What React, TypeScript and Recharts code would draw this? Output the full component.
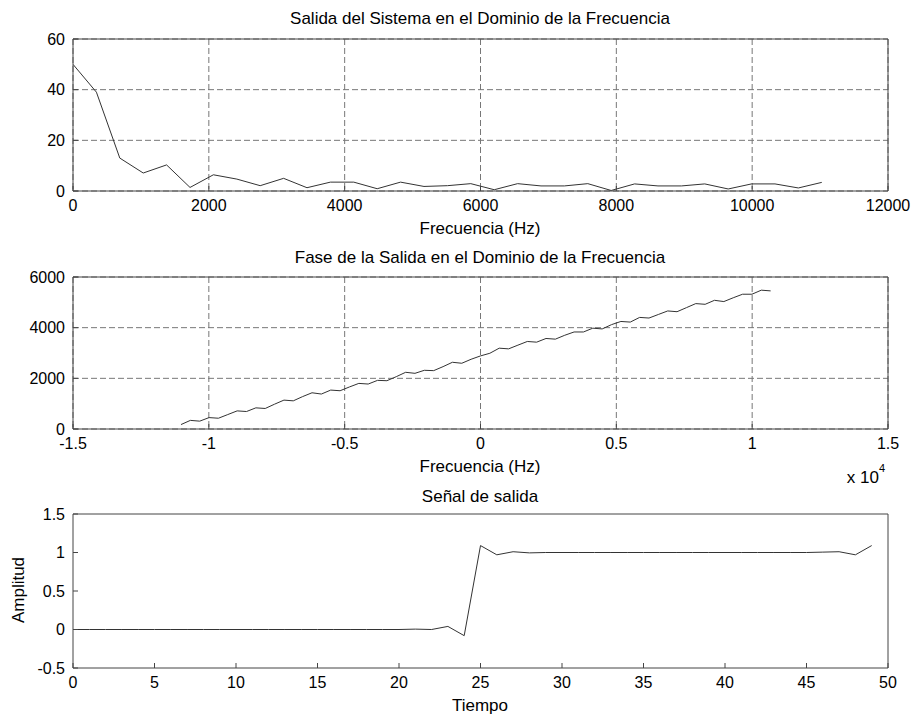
import { LineChart, Line, XAxis, YAxis, CartesianGrid } from 'recharts';

// frecuencias de los bins (Hz), paso 22050/64
const BIN_HZ = [
  0, 345, 689, 1034, 1378, 1723, 2067, 2412, 2756, 3101, 3445, 3790, 4134, 4479, 4823, 5168,
  5513, 5857, 6202, 6546, 6891, 7235, 7580, 7924, 8269, 8613, 8958, 9302, 9647, 9991, 10336,
  10680, 11025,
];

// magnitud de la salida
const MAGNITUD = [
  50, 39, 13, 7.1, 10.3, 1.4, 6.4, 4.7, 2.1, 5.0, 1.3, 3.5, 3.5, 0.9, 3.5, 1.8, 2.1, 2.9, 0.5,
  2.9, 2.0, 2.0, 2.9, 0.2, 2.8, 2.0, 2.0, 2.8, 0.8, 2.8, 2.8, 1.2, 3.4,
];

// fase (desenrollada), de -11025 Hz a 10680 Hz
const FASE = [
  175, 340, 310, 450, 425, 570, 715, 690, 835, 810, 980, 1140, 1112, 1280, 1430, 1380, 1536,
  1510, 1660, 1800, 1775, 1920, 1906, 2065, 2238, 2198, 2317, 2304, 2462, 2634, 2595, 2753,
  2885, 2990, 3190, 3164, 3310, 3455, 3428, 3573, 3547, 3700, 3830, 3830, 3980, 3950, 4120,
  4245, 4220, 4405, 4380, 4520, 4660, 4630, 4790, 4950, 4922, 5080, 5030, 5180, 5320, 5320,
  5480, 5452,
];

// señal de salida, t = 0..49
const SALIDA = [
  0, 0, 0, 0, 0, 0, 0, 0, 0, 0, 0, 0, 0, 0, 0, 0, 0, 0, 0, 0, 0, 0.005, 0, 0.04, -0.08, 1.09,
  0.97, 1.01, 0.995, 1, 1, 1, 1, 1, 1, 1, 1, 1, 1, 1, 1, 1, 1, 1, 1, 1, 1.005, 1.01, 0.97, 1.09,
];

const X_TICKS_MAG = [0, 2000, 4000, 6000, 8000, 10000, 12000];
const Y_TICKS_MAG = [0, 20, 40, 60];
const X_TICKS_FASE = [-15000, -10000, -5000, 0, 5000, 10000, 15000];
const Y_TICKS_FASE = [0, 2000, 4000, 6000];
const X_TICKS_T = [0, 5, 10, 15, 20, 25, 30, 35, 40, 45, 50];
const Y_TICKS_T = [-0.5, 0, 0.5, 1, 1.5];

const magData = BIN_HZ.map((f, i) => ({ x: f, y: MAGNITUD[i] }));
const faseHz = [...BIN_HZ.slice(1).reverse().map((f) => -f), ...BIN_HZ.slice(0, 32)];
const faseData = faseHz.map((f, i) => ({ x: f, y: FASE[i] }));
const salidaData = SALIDA.map((v, i) => ({ x: i, y: v }));

const W = 915;
const H = 717;
const LEFT = 73;
const RIGHT = 888;
const FONT = '"Liberation Sans", Arial, Helvetica, sans-serif';
const FS = 16;
const FS_LABEL = 17;
const BOX = '#444';

interface PanelProps {
  data: { x: number; y: number }[];
  xDomain: [number, number];
  xTicks: number[];
  yDomain: [number, number];
  yTicks: number[];
  top: number;
  bottom: number;
  grid?: boolean;
  xFmt?: (v: number) => string;
}

function Panel({ data, xDomain, xTicks, yDomain, yTicks, top, bottom, grid, xFmt }: PanelProps) {
  const tickStyle = { fill: '#000', fontSize: FS, fontFamily: FONT };
  return (
    <div style={{ position: 'absolute', left: 0, top: 0 }}>
      <LineChart
        width={W}
        height={H}
        data={data}
        margin={{ top: top - 1, right: W - RIGHT - 1, bottom: H - bottom - 30, left: 0 }}
      >
        {grid && <CartesianGrid stroke="#777" strokeDasharray="6 3" />}
        <XAxis
          type="number"
          dataKey="x"
          domain={xDomain}
          ticks={xTicks}
          interval={0}
          height={30}
          tickSize={-5}
          tickMargin={14}
          tick={tickStyle}
          tickFormatter={xFmt}
          stroke={BOX}
          allowDataOverflow
        />
        <XAxis
          xAxisId="t"
          orientation="top"
          type="number"
          dataKey="x"
          domain={xDomain}
          ticks={xTicks}
          interval={0}
          height={1}
          tickSize={-5}
          tick={false}
          stroke={BOX}
        />
        <YAxis
          type="number"
          domain={yDomain}
          ticks={yTicks}
          interval={0}
          width={LEFT}
          tickSize={-5}
          tickMargin={13}
          tick={tickStyle}
          stroke={BOX}
          allowDataOverflow
        />
        <YAxis
          yAxisId="r"
          orientation="right"
          type="number"
          domain={yDomain}
          ticks={yTicks}
          interval={0}
          width={1}
          tickSize={-5}
          tick={false}
          stroke={BOX}
        />
        <Line
          type="linear"
          dataKey="y"
          stroke="#333"
          strokeWidth={1}
          dot={false}
          isAnimationActive={false}
        />
      </LineChart>
    </div>
  );
}

function Txt({ x, y, children, rotate }: { x: number; y: number; children: React.ReactNode; rotate?: boolean }) {
  return (
    <div
      style={{
        position: 'absolute',
        left: x,
        top: y,
        transform: `translate(-50%, -50%)${rotate ? ' rotate(-90deg)' : ''}`,
        fontFamily: FONT,
        fontSize: FS_LABEL,
        lineHeight: 1,
        whiteSpace: 'nowrap',
        color: '#000',
      }}
    >
      {children}
    </div>
  );
}

export default function App() {
  return (
    <div style={{ position: 'fixed', left: 0, top: 0, width: W, height: H, background: '#fff' }}>
      <Panel
        data={magData}
        xDomain={[0, 12000]}
        xTicks={X_TICKS_MAG}
        yDomain={[0, 60]}
        yTicks={Y_TICKS_MAG}
        top={39}
        bottom={191}
        grid
      />
      <Panel
        data={faseData}
        xDomain={[-15000, 15000]}
        xTicks={X_TICKS_FASE}
        yDomain={[0, 6000]}
        yTicks={Y_TICKS_FASE}
        top={277}
        bottom={429}
        grid
        xFmt={(v) => String(v / 10000)}
      />
      <Panel
        data={salidaData}
        xDomain={[0, 50]}
        xTicks={X_TICKS_T}
        yDomain={[-0.5, 1.5]}
        yTicks={Y_TICKS_T}
        top={514}
        bottom={668}
      />
      <Txt x={480} y={18}>Salida del Sistema en el Dominio de la Frecuencia</Txt>
      <Txt x={480} y={228}>Frecuencia (Hz)</Txt>
      <Txt x={480} y={257}>Fase de la Salida en el Dominio de la Frecuencia</Txt>
      <Txt x={480} y={466}>Frecuencia (Hz)</Txt>
      <Txt x={866} y={477}>
        x 10<sup style={{ fontSize: 11, verticalAlign: 'top', position: 'relative', top: -6 }}>4</sup>
      </Txt>
      <Txt x={480} y={496}>Señal de salida</Txt>
      <Txt x={480} y={705}>Tiempo</Txt>
      <Txt x={18} y={590} rotate>Amplitud</Txt>
    </div>
  );
}
